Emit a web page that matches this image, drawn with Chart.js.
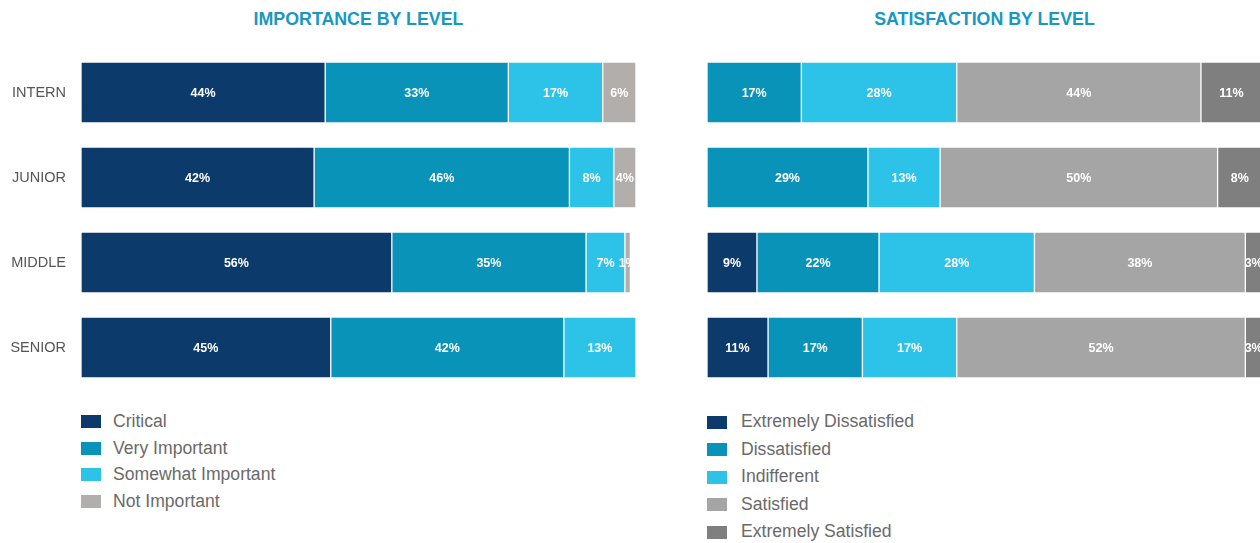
<!DOCTYPE html>
<html>
<head>
<meta charset="utf-8">
<script src="https://cdn.jsdelivr.net/npm/chart.js@4"></script>
<style>
  html, body { margin: 0; padding: 0; background: #fff; width: 1260px; height: 543px; overflow: hidden; position: relative; }
  .title { position: absolute; top: 9px; font: bold 17.8px "Liberation Sans", Arial, sans-serif; color: #1898c0; text-align: center; width: 555px; }
  .box { position: absolute; top: 0; height: 390px; }
  .legend { position: absolute; top: 408px; font: 17.6px "Liberation Sans", Arial, sans-serif; color: #6a6a6a; }
  .legend div { position: relative; padding-left: 32px; white-space: nowrap; }
  #legendRight div { padding-left: 34px; }
  .legend span { position: absolute; left: 0; top: 50%; margin-top: -6px; width: 20px; height: 13px; }
</style>
</head>
<body>
<div class="title" style="left:81px">IMPORTANCE BY LEVEL</div>
<div class="title" style="left:707px">SATISFACTION BY LEVEL</div>
<div class="box" style="left:0;width:640px"><canvas id="importance"></canvas></div>
<div class="box" style="left:640px;width:630px"><canvas id="satisfaction"></canvas></div>
<div class="legend" id="legendLeft" style="left:81px;line-height:26.5px"></div>
<div class="legend" id="legendRight" style="left:707px;line-height:27.5px"></div>
<script>
const levels = ["INTERN", "JUNIOR", "MIDDLE", "SENIOR"];

// importance by level (%)
const critical = [44, 42, 56, 45];
const veryImportant = [33, 46, 35, 42];
const somewhatImportant = [17, 8, 7, 13];
const notImportant = [6, 4, 1, null];

// satisfaction by level (%)
const extremelyDissatisfied = [null, null, 9, 11];
const dissatisfied = [17, 29, 22, 17];
const indifferent = [28, 13, 28, 17];
const satisfied = [44, 50, 38, 52];
const extremelySatisfied = [11, 8, 3, 3];

const FONT = '"Liberation Sans", Arial, sans-serif';

// white percent labels in the middle of each segment
const barLabels = {
  id: "barLabels",
  afterDatasetsDraw(chart) {
    const { ctx, chartArea } = chart;
    ctx.save();
    ctx.beginPath();
    ctx.rect(chartArea.left, chartArea.top, chartArea.width, chartArea.height);
    ctx.clip();
    ctx.font = "bold 12.5px " + FONT;
    ctx.fillStyle = "#ffffff";
    ctx.textAlign = "center";
    ctx.textBaseline = "middle";
    chart.data.datasets.forEach((ds, i) => {
      chart.getDatasetMeta(i).data.forEach((bar, j) => {
        const v = ds.data[j];
        if (!v) return;
        ctx.fillText(v + "%", (bar.x + bar.base) / 2, bar.y + 1);
      });
    });
    ctx.restore();
  },
};

function makeDataset(label, data, color) {
  return {
    label: label,
    data: data,
    backgroundColor: color,
    borderColor: "rgba(255,255,255,0.35)",
    borderWidth: 1,
    borderSkipped: false,
    barThickness: 61,
  };
}

function makeChart(id, datasets, showLevels, padding) {
  return new Chart(document.getElementById(id), {
    type: "bar",
    data: { labels: levels, datasets: datasets },
    plugins: [barLabels],
    options: {
      indexAxis: "y",
      responsive: true,
      maintainAspectRatio: false,
      animation: false,
      layout: { padding: padding },
      plugins: { legend: { display: false }, tooltip: { enabled: false } },
      scales: {
        x: { stacked: true, min: 0, max: 100, display: false },
        y: {
          stacked: true,
          display: showLevels,
          grid: { display: false },
          border: { display: false },
          ticks: { color: "#555555", font: { size: 14.5, family: FONT }, padding: 7 },
          afterFit(scale) {
            // fixed label column; no extra room above/below the bars
            if (showLevels) scale.width = 81;
            scale.paddingTop = 0;
            scale.paddingBottom = 0;
          },
        },
      },
    },
  });
}

function buildLegend(chart, el) {
  chart.data.datasets.forEach((ds) => {
    const row = document.createElement("div");
    const sw = document.createElement("span");
    sw.style.background = ds.backgroundColor;
    row.appendChild(sw);
    row.appendChild(document.createTextNode(ds.label));
    el.appendChild(row);
  });
}

const importanceChart = makeChart("importance", [
  makeDataset("Critical", critical, "#0b3a6b"),
  makeDataset("Very Important", veryImportant, "#0a93b9"),
  makeDataset("Somewhat Important", somewhatImportant, "#2dc3e9"),
  makeDataset("Not Important", notImportant, "#b1aeac"),
], true, { top: 50, right: 4 });

const satisfactionChart = makeChart("satisfaction", [
  makeDataset("Extremely Dissatisfied", extremelyDissatisfied, "#0b3a6b"),
  makeDataset("Dissatisfied", dissatisfied, "#0a93b9"),
  makeDataset("Indifferent", indifferent, "#2dc3e9"),
  makeDataset("Satisfied", satisfied, "#a5a5a5"),
  makeDataset("Extremely Satisfied", extremelySatisfied, "#7f7f7f"),
], false, { top: 50, left: 67, right: 8 });

buildLegend(importanceChart, document.getElementById("legendLeft"));
buildLegend(satisfactionChart, document.getElementById("legendRight"));
</script>
</body>
</html>
